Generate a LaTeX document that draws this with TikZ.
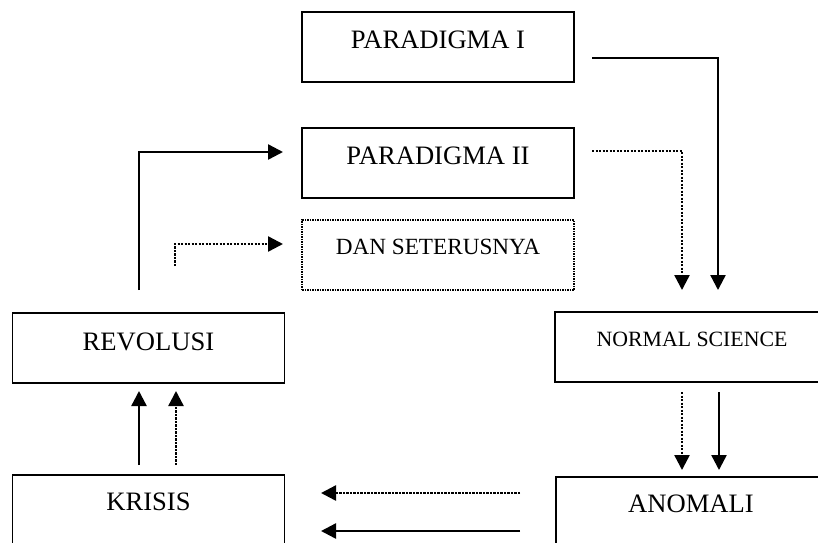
\documentclass[tikz,border=0pt]{standalone}
\usepackage{fontspec}
\setmainfont{Liberation Serif}
\usetikzlibrary{arrows.meta}
\begin{document}
\begin{tikzpicture}[x=1pt,y=-1pt,
  box/.style={draw=black,line width=1.7pt,minimum width=272pt,minimum height=70pt,inner sep=0pt,outer sep=0pt},
  dbox/.style={box,line width=1.5pt,dash pattern=on 1.5pt off 1pt},
  lbl/.style={anchor=base,inner sep=0pt,font=\fontsize{26.6}{30}\selectfont},
  conn/.style={line width=2.4pt,-{Triangle[length=15pt,width=15pt]}},
  dconn/.style={conn,dash pattern=on 2.2pt off 1.3pt}]
\useasboundingbox (0,0) rectangle (818,542);
\clip (0,0) rectangle (818,542);
% boxes
\node[box] (p1) at (438,47) {};
\node[box] (p2) at (438,163) {};
\node[dbox] (dan) at (438,255) {};
\node[box] (rev) at (148.5,348) {};
\node[box,minimum width=274pt] (ns) at (692,347) {};
\node[box] (kr) at (148.5,510) {};
\node[box,minimum width=273pt] (an) at (692.5,512) {};
% texts
\node[lbl] (p1t) at (438,48) {PARADIGMA I};
\node[lbl] (p2t) at (438,164) {PARADIGMA II};
\node[lbl,font=\fontsize{23.2}{27}\selectfont] (dant) at (438,254) {DAN SETERUSNYA};
\node[lbl] (revt) at (148.5,350) {REVOLUSI};
\node[lbl,font=\fontsize{21.8}{25}\selectfont] (nst) at (692,346) {NORMAL SCIENCE};
\node[lbl] (krt) at (148.5,510) {KRISIS};
\node[lbl] (ant) at (691,512) {ANOMALI};
% free ends
\coordinate (a1s) at (592,58);
\coordinate (a1e) at (718,290);
\coordinate (a2s) at (592,151);
\coordinate (a2e) at (682,290);
\coordinate (a3s) at (139,290);
\coordinate (a3e) at (283,152);
\coordinate (a4s) at (175,266);
\coordinate (a4e) at (283,244);
\coordinate (a5s) at (682,392);
\coordinate (a5e) at (682,470);
\coordinate (a6s) at (719,392);
\coordinate (a6e) at (719,470);
\coordinate (a7s) at (139,465);
\coordinate (a7e) at (139,391);
\coordinate (a8s) at (176,465);
\coordinate (a8e) at (176,391);
\coordinate (a9s) at (520,493);
\coordinate (a9e) at (321,493);
\coordinate (a10s) at (520,531);
\coordinate (a10e) at (321,531);
% connectors
\draw[conn] (a1s) -| (a1e);
\draw[dconn] (a2s) -| (a2e);
\draw[conn] (a3s) |- (a3e);
\draw[dconn] (a4s) |- (a4e);
\draw[dconn] (a5s) -- (a5e);
\draw[conn] (a6s) -- (a6e);
\draw[conn] (a7s) -- (a7e);
\draw[dconn] (a8s) -- (a8e);
\draw[dconn] (a9s) -- (a9e);
\draw[conn] (a10s) -- (a10e);
\end{tikzpicture}
\end{document}
